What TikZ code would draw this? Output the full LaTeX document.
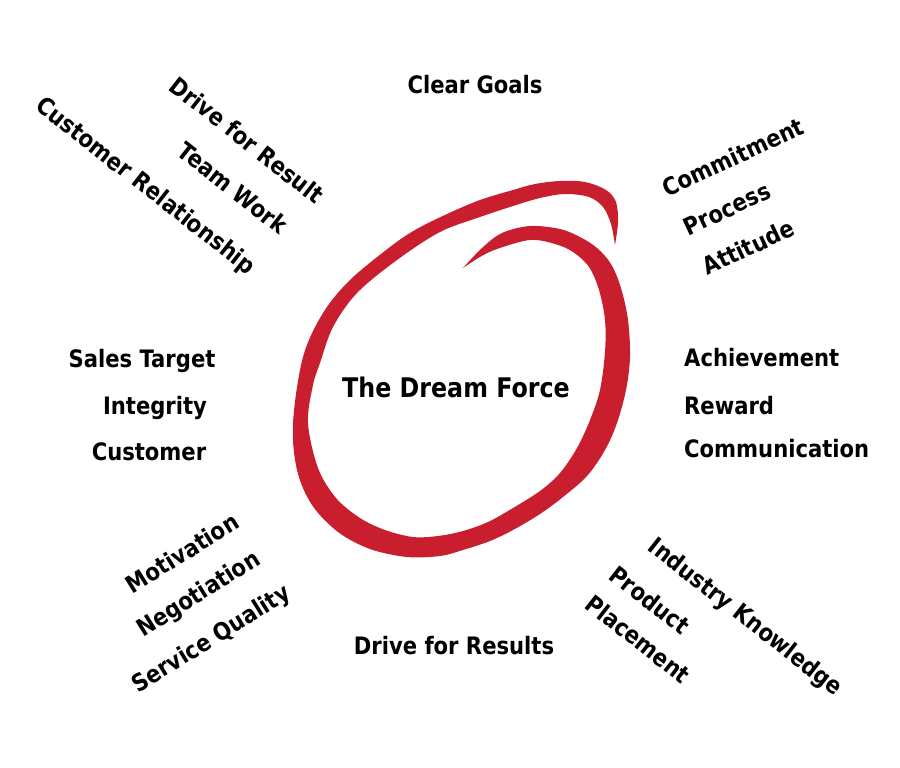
\documentclass[tikz,border=0pt]{standalone}
\usepackage{fontspec}
\newfontfamily\lblfont{DejaVu Sans}[FakeStretch=0.88]
\definecolor{ring}{RGB}{200,30,45}
\tikzset{
  lbl/.style={font=\lblfont\bfseries\fontsize{24}{28}\selectfont, inner sep=0pt},
  ttl/.style={font=\lblfont\bfseries\fontsize{27}{32}\selectfont, inner sep=0pt},
}
\begin{document}
\begin{tikzpicture}[x=1pt,y=-1pt]
\useasboundingbox (0,0) rectangle (900,768);
% brush ring
\fill[ring] plot[smooth,tension=0.55] coordinates {
 (615,245) (618,222) (616,202) (606,190) (585,182) (560,181) (535,184) (513,190)
 (480,200) (447,214) (415,230) (390,247) (350,280) (323,313) (303,357) (293,423)
 (297,470) (312,505) (338,532) (370,549) (407,557) (440,556) (463,550) (490,541)
 (513,530) (540,514) (563,497) (587,476) (605,450) (617,423) (626,390) (630,357)
 (628,320) (621,288) (611,264) (597,248) (580,237) (560,229) (530,226) (502,233)
 (482,248) (463,268)}
 -- plot[smooth,tension=0.55] coordinates {
 (463,268) (480,257) (497,249) (530,240) (555,244) (573,252) (589,267) (599,290)
 (605,320) (605,352) (600,390) (590,420) (577,448) (560,473) (540,491) (513,508)
 (488,522) (463,531) (438,536) (413,537) (385,530) (360,518) (336,498) (318,468)
 (308,423) (313,385) (320,363) (333,327) (357,293) (397,260) (440,232)
 (480,217) (513,206) (540,198) (565,194) (589,197) (603,207) (611,224) (615,245)}
 -- cycle;
% centre
\node[ttl, anchor=base] (title) at (456,397) {The Dream Force};
% top
\node[lbl, anchor=base] (goals) at (475,93) {Clear Goals};
% top left
\node[lbl, rotate=-38] (drive) at (247,140) {Drive for Result};
\node[lbl, rotate=-38] (team) at (233,188) {Team Work};
\node[lbl, rotate=-38] (custrel) at (145,187) {Customer Relationship};
% top right
\node[lbl, rotate=25] (commit) at (733,157) {Commitment};
\node[lbl, rotate=25] (process) at (727,209) {Process};
\node[lbl, rotate=25] (attitude) at (748,247) {Attitude};
% left
\node[lbl, anchor=base] (sales) at (142,367) {Sales Target};
\node[lbl, anchor=base] (integrity) at (155,414) {Integrity};
\node[lbl, anchor=base] (customer) at (149,460) {Customer};
% right
\node[lbl, anchor=base west] (achieve) at (684,366) {Achievement};
\node[lbl, anchor=base west] (reward) at (684,414) {Reward};
\node[lbl, anchor=base west] (comm) at (684,457) {Communication};
% bottom left
\node[lbl, rotate=32] (motiv) at (182,553) {Motivation};
\node[lbl, rotate=32] (negot) at (199,595) {Negotiation};
\node[lbl, rotate=32] (service) at (212,640) {Service Quality};
% bottom
\node[lbl, anchor=base] (results) at (454,654) {Drive for Results};
% bottom right
\node[lbl, rotate=-38] (industry) at (745,618) {Industry Knowledge};
\node[lbl, rotate=-38] (product) at (650,600) {Product};
\node[lbl, rotate=-38] (placement) at (638,639) {Placement};
\end{tikzpicture}
\end{document}
